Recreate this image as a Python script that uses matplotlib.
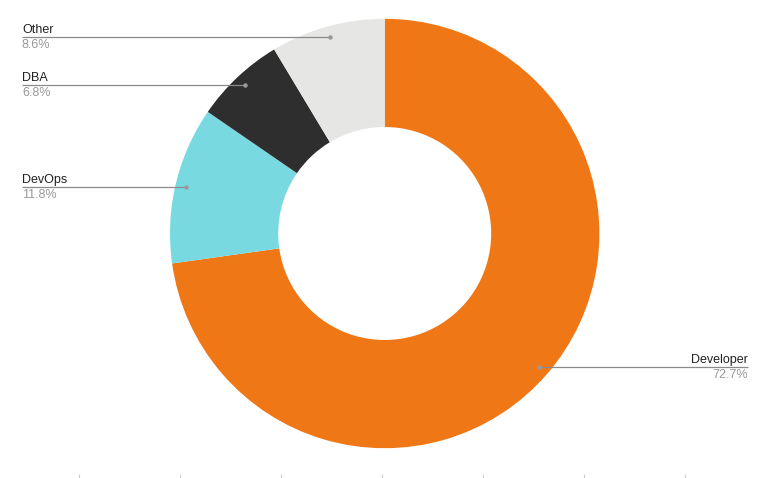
import numpy as np
import matplotlib.pyplot as plt

# data
roles = ['Developer', 'DevOps', 'DBA', 'Other']
shares = [72.7, 11.8, 6.8, 8.6]
colors = ['#EF7716', '#78D9E1', '#2E2E2E', '#E6E6E4']
pct_labels = ['72.7%', '11.8%', '6.8%', '8.6%']
tick_x = [79, 180, 281, 382, 483, 584, 685]

W, H = 766, 478
cx, cy = 384.7, H - 233.5
R = 214.7

fig = plt.figure(figsize=(W / 100, H / 100), dpi=100)
ax = fig.add_axes([0, 0, 1, 1])

wedges, _ = ax.pie(shares, colors=colors, startangle=90, counterclock=False,
                   center=(cx, cy), radius=R,
                   wedgeprops=dict(width=R * 0.504, linewidth=0))

ax.set_xlim(0, W)
ax.set_ylim(0, H)
ax.set_aspect('auto')
ax.set_frame_on(False)
ax.set_yticks([])
ax.set_xticks(tick_x)
ax.tick_params(axis='x', direction='in', length=3.2, width=0.8, color='#cccccc',
               labelbottom=False)

# leader lines and labels
for w, name, pct in zip(wedges, roles, pct_labels):
    ang = np.deg2rad((w.theta1 + w.theta2) / 2)
    px = cx + 0.95 * R * np.cos(ang)
    py = cy + 0.95 * R * np.sin(ang)
    if px < cx:
        xe = 22
        ha = 'left'
    else:
        xe = 748
        ha = 'right'
    ax.plot([xe, px], [py, py], color='#8a8a8a', lw=0.9, solid_capstyle='butt')
    ax.plot(px, py, 'o', color='#999999', ms=3.2, mec='none')
    ax.text(xe, py + 4, name, ha=ha, va='baseline', fontsize=9,
            family='Liberation Sans', color='#222222')
    ax.text(xe, py - 11, pct, ha=ha, va='baseline', fontsize=9,
            family='Liberation Sans', color='#9a9a9a')

fig.savefig('out.png', dpi=100)
